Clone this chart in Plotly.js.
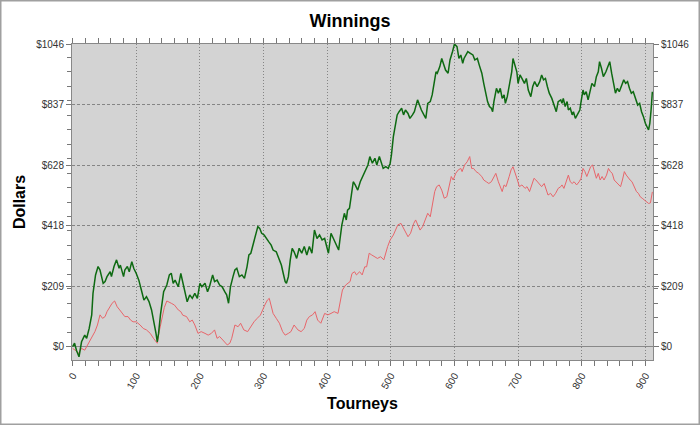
<!DOCTYPE html>
<html>
<head>
<meta charset="utf-8">
<script src="https://cdn.plot.ly/plotly-3.0.1.min.js"></script>
<style>html,body{margin:0;padding:0;background:#fff;}#chart{width:700px;height:425px;}</style>
</head>
<body>
<div id="chart"></div>
<script>
// Series 1 (green) - cumulative winnings
const greenTourney = [0,3,6,10,14,19,22,26,30,32,36,40,43,45,48,51,54,59,61,65,69,73,75,80,82,86,89,93,96,100,104,108,112,116,120,124,128,131,133,135,138,143,148,
152,155,158,161,166,170,173,177,180,184,188,192,196,200,203,208,212,215,220,223,227,231,235,239,242,245,248,252,255,258,262,266,270,274,277,280,283,287,291,294,297,301,
304,308,312,315,320,324,328,331,334,336,339,342,345,348,352,356,360,364,368,372,376,380,384,388,392,396,399,402,406,410,414,418,420,423,427,430,432,435,438,441,444,448,452,456,459,
461,464,467,471,475,478,482,485,488,492,496,499,501,504,508,510,513,517,520,523,527,530,534,537,542,545,548,552,555,558,562,565,568,571,573,577,580,583,586,590,593,597,600,604,607,610,613,
615,618,621,625,629,632,636,639,643,646,649,652,655,658,660,662,666,669,672,675,678,680,683,687,690,692,695,698,700,703,706,710,713,716,720,723,726,730,734,737,740,743,746,749,753,756,760,763,767,
769,771,774,777,779,782,785,787,790,793,797,799,802,804,807,810,813,816,820,823,826,828,831,834,838,841,844,847,850,853,856,859,863,866,869,872,875,878,881,885,888,891,894,897,900,905,907,909,911];
const greenDollars = [0,12,-12,-35,17,40,29,63,110,184,248,277,265,248,219,225,242,259,242,277,300,271,282,242,265,277,259,294,271,253,230,196,161,173,156,127,86,46,17,46,110,190,213,
248,254,219,230,207,253,225,184,155,179,167,184,167,219,207,219,190,207,248,225,230,213,207,190,179,150,207,242,265,271,242,248,236,276,317,323,351,386,415,409,392,386,
375,363,351,334,328,305,282,253,225,219,242,300,340,328,305,340,323,346,317,346,323,403,374,386,369,374,346,323,392,374,351,334,369,420,461,438,472,478,524,570,559,541,570,588,605,
616,628,657,634,651,628,657,634,616,622,616,634,663,726,783,801,812,824,801,818,806,789,801,812,853,835,818,801,789,841,847,870,916,950,945,968,996,973,956,945,991,1020,1046,1037,996,1008,979,
996,1008,1020,1014,1008,991,996,973,945,910,876,847,830,824,812,847,893,876,893,858,870,841,864,916,950,996,973,950,910,939,927,910,927,887,864,899,916,899,916,939,922,927,899,876,858,835,812,847,853,
841,858,830,847,818,824,801,812,789,801,818,847,887,870,881,853,887,910,899,933,950,985,962,933,950,968,985,945,916,876,893,881,904,922,910,916,893,876,881,858,835,841,812,795,772,749,772,818,881];

// Series 2 (red)
const redTourney = [0,4,9,14,19,25,30,35,39,43,47,51,54,59,62,66,70,74,78,82,87,91,95,100,106,111,116,122,127,131,133,136,140,144,148,
152,155,160,166,170,173,179,184,188,192,197,202,208,213,218,223,227,231,236,240,243,247,250,255,260,264,269,275,280,285,290,295,302,
306,309,312,315,320,325,330,334,339,343,348,354,359,364,368,372,377,381,385,390,396,401,406,411,417,420,424,429,432,436,439,443,446,451,455,459,
462,466,470,474,479,484,489,495,499,504,508,511,516,520,523,527,531,536,539,543,546,550,553,558,562,565,569,572,576,580,584,588,592,595,598,602,606,610,
612,616,620,624,627,630,634,638,643,646,650,654,658,662,665,669,672,675,678,681,686,689,692,695,699,702,706,711,714,718,721,725,728,733,737,741,744,747,751,755,759,763,767,
769,772,776,779,782,785,788,792,796,799,802,805,808,811,814,817,820,823,826,829,832,835,839,842,845,848,851,854,857,861,864,867,870,873,876,879,883,886,889,892,895,898,901,905,908,911];
const redDollars = [-6,-12,-23,-6,-12,12,29,52,75,110,98,104,121,138,150,158,138,127,115,104,104,92,86,86,75,63,58,46,29,17,12,52,98,135,158,
155,150,144,127,121,109,104,86,92,75,46,52,46,40,46,58,29,35,23,12,6,12,29,75,69,81,58,52,69,86,98,109,144,
161,167,144,115,98,81,52,40,46,52,75,58,52,63,92,104,110,121,92,81,115,110,115,121,115,150,196,213,219,225,253,259,248,259,248,276,
276,323,317,311,305,311,300,346,369,386,409,421,426,409,398,380,392,426,438,421,403,415,432,461,449,490,536,553,559,541,513,518,553,588,576,599,611,616,
605,628,639,657,616,616,605,599,588,576,570,564,570,588,599,570,553,536,559,553,588,611,622,605,576,553,559,547,553,536,553,582,576,564,553,564,541,524,530,518,530,547,553,
559,547,570,593,570,564,570,559,570,582,616,605,588,605,622,628,605,582,599,576,588,576,593,616,605,599,576,570,564,553,576,605,593,582,576,570,553,536,530,518,513,507,501,495,497,535];

const yTickVals = [0,209.2,418.4,627.6,836.8,1046];
const yTickText = ['$0','$209','$418','$628','$837','$1046'];
const xTickVals = [0,100,200,300,400,500,600,700,800,900];

const tickFont = {family:'Liberation Sans, Arial, sans-serif', size:10, color:'#333'};
const titleFont = {family:'Liberation Sans, Arial, sans-serif', size:16, color:'#000', weight:'bold'};

const traces = [
  {x: redTourney, y: redDollars, type:'scatter', mode:'lines', line:{color:'#e8656a', width:1}, hoverinfo:'skip', showlegend:false},
  {x: greenTourney, y: greenDollars, type:'scatter', mode:'lines', line:{color:'#0e6a12', width:1.5}, hoverinfo:'skip', showlegend:false},
  {x: [null], y: [null], yaxis:'y2', type:'scatter', mode:'lines', hoverinfo:'skip', showlegend:false}
];

const yCommon = {
  range:[-46,1046], tickmode:'array', tickvals:yTickVals, ticktext:yTickText,
  ticks:'outside', ticklen:5, tickcolor:'#777', tickwidth:1,
  minor:{tickmode:'linear', tick0:0, dtick:50, ticks:'outside', ticklen:4, tickcolor:'#777', showgrid:false},
  showline:true, linecolor:'#888', linewidth:1,
  tickfont:tickFont, fixedrange:true
};

const layout = {
  width:700, height:425,
  margin:{l:72, r:47, t:44, b:65},
  paper_bgcolor:'#ffffff', plot_bgcolor:'#d3d3d3',
  title:{text:'Winnings', font:{family:'Liberation Sans, Arial, sans-serif', size:18, color:'#000', weight:'bold'}, x:0.5, xanchor:'center', y:0.951, yanchor:'middle'},
  xaxis:{
    range:[-1,912], tickmode:'array', tickvals:xTickVals, tickangle:-60,
    ticks:'outside', ticklen:5, tickcolor:'#777',
    minor:{tickmode:'linear', tick0:0, dtick:20, ticks:'outside', ticklen:4, tickcolor:'#777', showgrid:false},
    showgrid:true, gridcolor:'#858585', griddash:'1px,2px', gridwidth:1,
    showline:true, linecolor:'#888', mirror:'allticks', zeroline:false,
    tickfont:tickFont,
    title:{text:'Tourneys', font:titleFont, standoff:7}
  },
  yaxis: Object.assign({}, yCommon, {
    showgrid:true, gridcolor:'#858585', griddash:'3px,2px', gridwidth:1,
    zeroline:true, zerolinecolor:'#888888', zerolinewidth:1.5,
    title:{text:'Dollars', font:titleFont, standoff:6}
  }),
  yaxis2: Object.assign({}, yCommon, {
    overlaying:'y', side:'right', showgrid:false, zeroline:false
  }),
  shapes:[{
    type:'rect', xref:'paper', yref:'paper',
    x0:(-72+0.75)/581, x1:1+(47-0.75)/581, y0:(-65+0.75)/316, y1:1+(44-0.75)/316,
    line:{color:'#a0a0a0', width:1.5}, fillcolor:'rgba(0,0,0,0)', layer:'below'
  }]
};

Plotly.newPlot('chart', traces, layout, {displayModeBar:false, staticPlot:true});
</script>
</body>
</html>
